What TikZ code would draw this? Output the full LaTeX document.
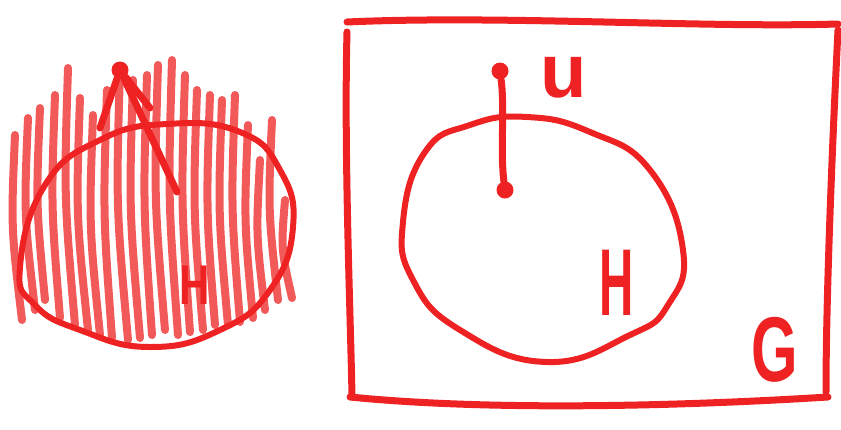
\documentclass[tikz,border=0pt]{standalone}
\usepackage{fontspec}
\setmainfont{Liberation Sans}
\definecolor{pen}{RGB}{238,34,34}
\tikzset{
  pen/.style={draw=pen,line width=7pt,line cap=round,line join=round},
  hatch/.style={draw=pen,line width=8pt,line cap=round,opacity=0.75},
  vtx/.style={circle,fill=pen,inner sep=0pt,minimum size=17pt},
  lbl/.style={text=pen,font=\bfseries,inner sep=0pt},
}
\begin{document}
\begin{tikzpicture}[x=1pt,y=-1pt]
\useasboundingbox (0,0) rectangle (841,429);
% ---------- left: hatched H ----------
\foreach \xa/\ya/\xb/\yb in {
 15/135/22/320, 28/118/35/310, 40/108/45/300, 55/95/60/318,
 68/68/75/325, 80/98/88/330, 93/115/100/335, 107/90/112/338,
 120/70/128/340, 133/80/140/338, 147/75/152/335, 158/65/165/330,
 172/60/178/335, 185/75/190/332, 197/90/203/330, 210/95/215/325,
 222/100/228/325, 235/95/240/322, 248/125/253/318, 260/160/265/310,
 272/120/278/300, 285/200/292/298}
 \draw[hatch] (\xa,\ya) .. controls ({\xa-4},{(\ya+\yb)/2}) .. (\xb,\yb);
\draw[pen,line width=6pt] plot[smooth cycle,tension=0.8] coordinates
 {(20,267) (45,185) (100,140) (167,124) (240,132) (280,170) (293,227)
  (270,290) (220,330) (150,347) (80,330) (35,305)};
\node[vtx] (w) at (120,70) {};
\coordinate (w1) at (177,192);
\coordinate (w2) at (100,128);
\coordinate (w3) at (150,108);
\draw[pen] (w) -- (w1);
\draw[pen] (w) -- (w2);
\draw[pen] (w) -- (w3);
\node[lbl,font=\bfseries\fontsize{56}{56}\selectfont,xscale=0.75] (h1) at (195,285) {H};
% ---------- right: G with H and u ----------
\coordinate (g1) at (347,22);
\coordinate (g2) at (838,24);
\draw[pen] (g1) .. controls (500,15) and (700,28) .. (g2);
\draw[pen] (347,32) .. controls (344,150) and (350,300) .. (352,395);
\draw[pen] (838,30) .. controls (832,150) and (826,300) .. (826,392);
\draw[pen] (350,397) .. controls (500,412) and (700,405) .. (828,397);
\draw[pen,line width=6pt] plot[smooth cycle,tension=0.8] coordinates
 {(403,222) (425,152) (470,125) (527,117) (590,132) (650,170)
  (683,250) (668,305) (630,335) (547,362) (460,330) (413,280)};
\node[vtx] (u) at (500,71) {};
\node[vtx] (x) at (505,190) {};
\draw[pen] (u) .. controls (505,110) and (500,150) .. (x);
\node[lbl,font=\bfseries\fontsize{76}{76}\selectfont] (ul) at (564,78) {u};
\node[lbl,font=\bfseries\fontsize{95}{95}\selectfont,xscale=0.5] (hl) at (617,283) {H};
\node[lbl,font=\bfseries\fontsize{92}{92}\selectfont,xscale=0.65] (gl) at (775,350) {G};
\end{tikzpicture}
\end{document}
